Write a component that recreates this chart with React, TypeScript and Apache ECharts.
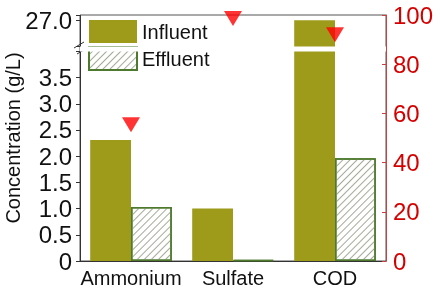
import React, { useEffect, useRef } from "react";
import * as echarts from "echarts";

const categories = ["Ammonium", "Sulfate", "COD"];
const influent = [2.31, 1.0, 27.0];
const effluent = [1.03, 0.02, 1.96];
const removal = [55.4, 98.6, 92.0];
const leftBreak = { start: 4.0, end: 26.5 };

const FONT = "Liberation Sans, Arial, sans-serif";

export default function App() {
  const ref = useRef<HTMLDivElement>(null);
  useEffect(() => {
    if (!ref.current) return;
    const chart = echarts.init(ref.current, null, { renderer: "svg" });
    chart.setOption({
      animation: false,
      textStyle: { fontFamily: FONT },
      grid: {
        left: 80,
        right: 54,
        top: 15,
        bottom: 28,
        show: true,
        borderColor: "#555",
        borderWidth: 1,
        containLabel: false,
        outerBoundsMode: "none",
      },
      legend: {
        data: ["Influent", "Effluent"],
        orient: "vertical",
        left: 83,
        top: 15,
        itemWidth: 48,
        itemHeight: 23,
        itemGap: 3,
        icon: "rect",
        textStyle: { fontSize: 20, color: "#111", fontFamily: FONT },
      },
      graphic: [
        { type: "line", shape: { x1: 74, y1: 48, x2: 84, y2: 42 }, style: { stroke: "#333", lineWidth: 1 }, z: 100 },
        { type: "line", shape: { x1: 77, y1: 54, x2: 87, y2: 48 }, style: { stroke: "#333", lineWidth: 1 }, z: 100 },
      ],
      xAxis: {
        type: "category",
        data: categories,
        axisLine: { lineStyle: { color: "#333", width: 1 } },
        axisTick: { alignWithLabel: true, length: 4, lineStyle: { color: "#333" } },
        axisLabel: { interval: 0, fontSize: 20, color: "#111", margin: 7, fontFamily: FONT },
      },
      yAxis: [
        {
          type: "value",
          min: 0,
          max: 27.1,
          interval: 0.5,
          breaks: [{ start: leftBreak.start, end: leftBreak.end, gap: "2%" }],
          breakArea: {
            show: true,
            itemStyle: { color: "#fff", borderColor: "#fff", borderWidth: 0, opacity: 1 },
            zigzagAmplitude: 0,
            expandOnClick: false,
          },
          name: "Concentration (g/L)",
          nameLocation: "middle",
          nameGap: 57,
          nameMoveOverlap: false,
          nameTextStyle: { fontSize: 20, color: "#111", fontFamily: FONT },
          axisLine: { show: true, lineStyle: { color: "#333" } },
          axisTick: { show: true, inside: false, length: 4, lineStyle: { color: "#333" } },
          splitLine: { show: false },
          axisLabel: {
            fontSize: 24,
            color: "#111",
            margin: 8,
            fontFamily: FONT,
            formatter: (v: number) => {
              if ((v > 3.5 && v < 27) || v > 27.05) return "";
              return v === 0 ? "0" : v.toFixed(1);
            },
          },
        },
        {
          type: "value",
          position: "right",
          min: 0,
          max: 100,
          interval: 20,
          axisLine: { show: true, lineStyle: { color: "#c84040" } },
          axisTick: { show: true, inside: true, length: 4, lineStyle: { color: "#c84040" } },
          splitLine: { show: false },
          axisLabel: { fontSize: 24, color: "#d40000", margin: 7, fontFamily: FONT },
        },
      ],
      series: [
        {
          name: "Influent",
          type: "bar",
          data: influent,
          barGap: "0%",
          barCategoryGap: "20%",
          itemStyle: { color: "#9e9a1a" },
        },
        {
          name: "Effluent",
          type: "bar",
          data: effluent,
          itemStyle: {
            color: "#ffffff",
            borderColor: "#4e7a2e",
            borderWidth: 1.5,
            decal: {
              symbol: "rect",
              symbolSize: 1,
              rotation: -Math.PI / 4,
              dashArrayX: [[1, 0]],
              dashArrayY: [1, 4],
              color: "#a3ab96",
            },
          },
        },
        {
          name: "Removal",
          type: "scatter",
          yAxisIndex: 1,
          data: removal,
          symbol: "triangle",
          symbolRotate: 180,
          symbolSize: [18, 15],
          itemStyle: { color: "#ff0000" },
          z: 5,
        },
      ],
    });
    return () => chart.dispose();
  }, []);
  return (
    <div
      ref={ref}
      style={{ position: "fixed", left: 0, top: 0, width: 440, height: 289 }}
    />
  );
}
